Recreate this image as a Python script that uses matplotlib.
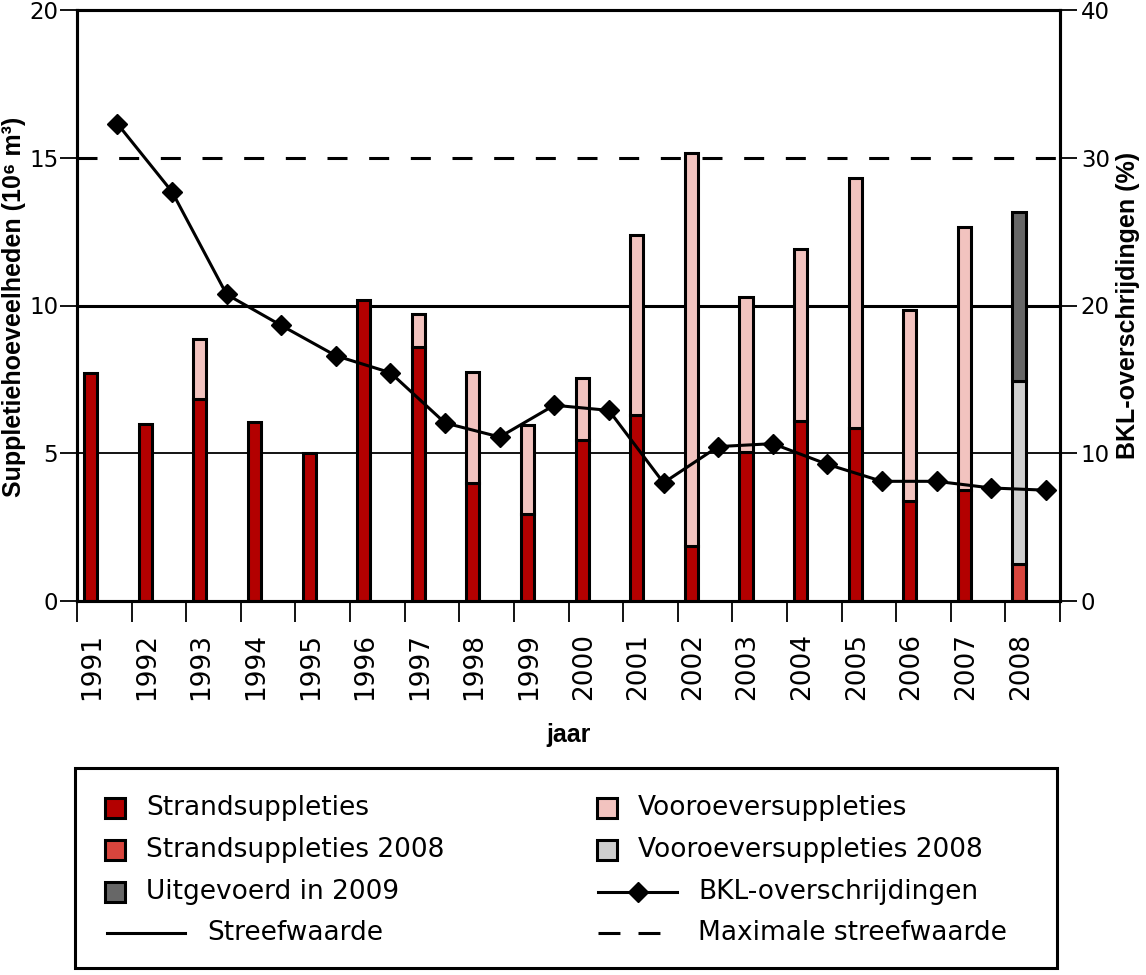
import numpy as np
import matplotlib
matplotlib.use('Agg')
from matplotlib import pyplot as plt
from matplotlib.patches import Rectangle
from matplotlib.lines import Line2D

years = list(range(1991, 2009))
# volumes in 10^6 m3
strand = [7.7, 6.0, 6.85, 6.05, 5.0, 10.2, 8.6, 4.0, 2.95, 5.45, 6.3, 1.85, 5.05, 6.1, 5.85, 3.4, 3.75, 0]
vooroever = [0, 0, 2.0, 0, 0, 0, 1.1, 3.75, 3.0, 2.1, 6.1, 13.3, 5.25, 5.8, 8.45, 6.45, 8.9, 0]
strand_2008 = [0] * 17 + [1.25]
vooroever_2008 = [0] * 17 + [6.2]
uitgevoerd_2009 = [0] * 17 + [5.7]
# BKL-overschrijdingen in %
bkl = [32.3, 27.7, 20.75, 18.65, 16.6, 15.45, 12.05, 11.1, 13.25, 12.9, 8.0, 10.45, 10.65, 9.25, 8.1, 8.1, 7.65, 7.5]
streefwaarde = 10
max_streefwaarde = 15

c_strand = '#b30000'
c_voor = '#f2c3bf'
c_strand08 = '#d8453d'
c_voor08 = '#cfcfcf'
c_2009 = '#676767'

plt.rcParams['font.family'] = 'DejaVu Sans'
plt.rcParams['lines.scale_dashes'] = False
lbl_font = dict(family=['Liberation Sans', 'DejaVu Sans'], weight='bold', size=18)

W, H = 1146, 975
fig = plt.figure(figsize=(W / 100, H / 100), dpi=100)
ax = fig.add_axes([77 / W, 1 - 601 / H, (1060 - 77) / W, (601 - 10) / H])

x = np.arange(len(years))
xb = x + 0.25
bar_kw = dict(width=0.24, edgecolor='black', linewidth=2.2, zorder=3)

def stack(vals, bottom, color):
    vals = np.array(vals, dtype=float)
    m = vals > 0
    ax.bar(xb[m], vals[m], bottom=bottom[m], color=color, **bar_kw)
    return bottom + vals

bottom = np.zeros(len(years))
bottom = stack(strand, bottom, c_strand)
bottom = stack(strand_2008, bottom, c_strand08)
bottom = stack(vooroever, bottom, c_voor)
bottom = stack(vooroever_2008, bottom, c_voor08)
bottom = stack(uitgevoerd_2009, bottom, c_2009)

ax.axhline(streefwaarde, color='k', lw=2.2, zorder=1)
ax.axhline(5, color='k', lw=1.3, zorder=1)
ax.axhline(max_streefwaarde, color='k', lw=2.2, linestyle=(0, (14.4, 15.6)), zorder=1)

ax.set_xlim(0, len(years))
ax.set_ylim(0, 20)
ax.set_xticks(np.arange(len(years) + 1))
ax.set_xticklabels([])
ax.set_xticks(x + 0.28, minor=True)
ax.set_xticklabels([str(y) for y in years], minor=True, rotation=90)
ax.tick_params(axis='x', which='major', direction='out', length=15, width=1.3)
ax.tick_params(axis='x', which='minor', length=0, pad=23, labelsize=19)
ax.set_yticks([0, 5, 10, 15, 20])
ax.tick_params(axis='y', direction='out', length=12.5, width=1.3, pad=1, labelsize=16.5)

ax.set_ylabel('Suppletiehoeveelheden (10\u2076 m\u00b3)', **lbl_font)
ax.yaxis.set_label_coords(-0.064, 0.497)
ax.yaxis.label.set_va('center')
ax.set_xlabel('jaar', **lbl_font)
ax.xaxis.set_label_coords(0.5, -0.226)
ax.xaxis.label.set_va('center')

ax2 = ax.twinx()
ax2.plot(x + 0.74, bkl, color='k', lw=2.2, marker='D', ms=10, zorder=5)
ax2.set_ylim(0, 40)
ax2.set_yticks([0, 10, 20, 30, 40])
ax2.tick_params(axis='y', direction='out', length=12, width=1.3, pad=3, labelsize=16.5)
ax2.set_ylabel('BKL-overschrijdingen (%)', **lbl_font)
ax2.yaxis.set_label_coords(1.069, 0.5)
ax2.yaxis.label.set_va('center')

for a in (ax, ax2):
    for s in a.spines.values():
        s.set_linewidth(2.2)

# legend box drawn by hand in pixel coordinates
lax = fig.add_axes([0, 0, 1, 1])
lax.set_xlim(0, W)
lax.set_ylim(H, 0)
lax.axis('off')
lax.add_patch(Rectangle((75, 768), 982, 200, fill=False, ec='k', lw=2.2))

rows = [808, 850, 892, 933]
patch_items = [
    (105, 146, rows[0], c_strand, 'Strandsuppleties'),
    (105, 146, rows[1], c_strand08, 'Strandsuppleties 2008'),
    (105, 146, rows[2], c_2009, 'Uitgevoerd in 2009'),
    (597, 638, rows[0], c_voor, 'Vooroeversuppleties'),
    (597, 638, rows[1], c_voor08, 'Vooroeversuppleties 2008'),
]
for px, tx, ry, col, lab in patch_items:
    lax.add_patch(Rectangle((px, ry - 10), 20, 20, fc=col, ec='k', lw=2.2))
    lax.text(tx, ry, lab, fontsize=19, va='center', ha='left')

lax.add_line(Line2D([107, 185], [rows[3], rows[3]], color='k', lw=2.2))
lax.text(207, rows[3], 'Streefwaarde', fontsize=19, va='center', ha='left')
lax.add_line(Line2D([598, 677], [rows[2], rows[2]], color='k', lw=2.2))
lax.add_line(Line2D([638], [rows[2]], color='k', marker='D', ms=10))
lax.text(698, rows[2], 'BKL-overschrijdingen', fontsize=19, va='center', ha='left')
lax.add_line(Line2D([598, 660], [rows[3], rows[3]], color='k', lw=2.2, linestyle=(0, (15.8, 13))))
lax.text(698, rows[3], 'Maximale streefwaarde', fontsize=19, va='center', ha='left')

fig.savefig('out.png', dpi=100)
